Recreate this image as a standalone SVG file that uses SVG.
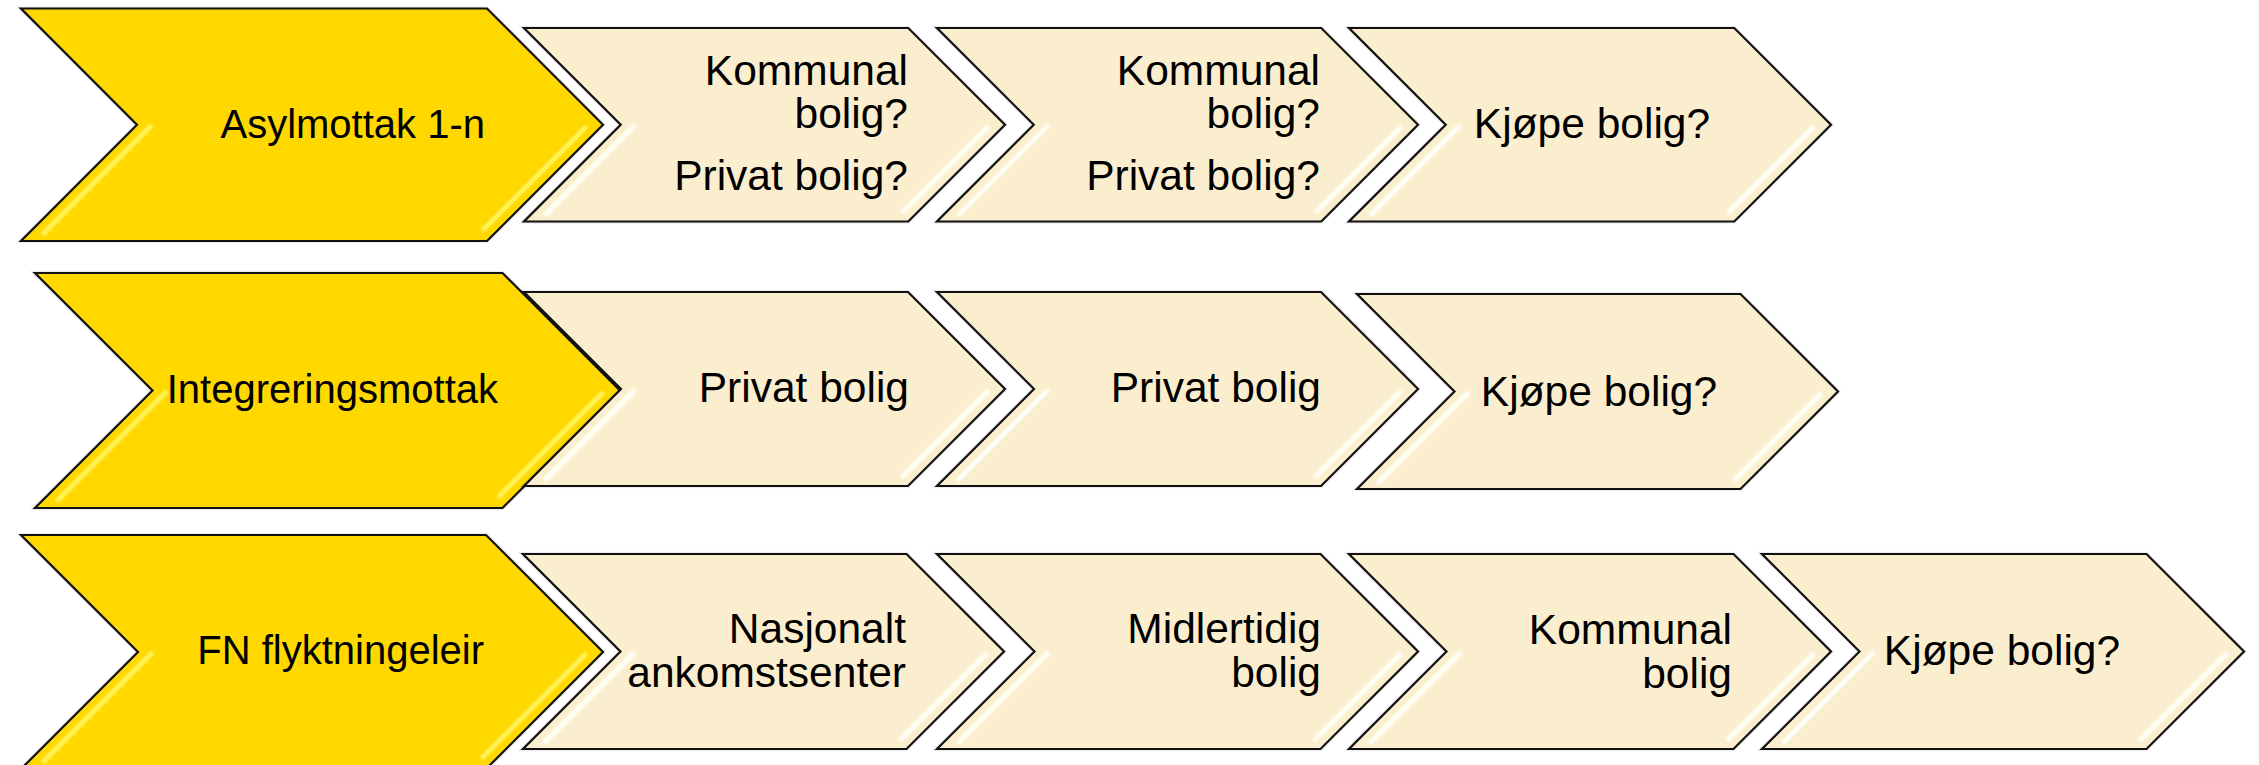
<svg xmlns="http://www.w3.org/2000/svg" width="2259" height="765" viewBox="0 0 2259 765">
<style>
.y{fill:#FFD800;stroke:#111;stroke-width:2.2;stroke-linejoin:miter}
.b{fill:#FBEECE;stroke:#111;stroke-width:2.2;stroke-linejoin:miter}
.sh{fill:none;stroke:#000;stroke-opacity:0.07;stroke-width:4.5}
.hy{fill:none;stroke:#FFF45A;stroke-width:5;stroke-linecap:round;filter:url(#soft)}
.hb{fill:none;stroke:#FFFFF6;stroke-width:5;stroke-linecap:round;filter:url(#soft)}
text{font-family:"Liberation Sans",Arial,sans-serif;font-size:42.5px;fill:#000}
.ty{font-size:40px}
.r{text-anchor:end}
.c{text-anchor:middle}
</style>
<defs>
<filter id="soft" x="-10%" y="-10%" width="120%" height="120%"><feGaussianBlur stdDeviation="0.9"/></filter>
</defs>
<rect width="2259" height="765" fill="#fff"/>
<g id="connectors"/>

<!-- Row 1 -->
<g id="n-asylmottak">
<path class="sh" d="M21,8.5 L487,8.5 L603,124.75 L487,241 L21,241 L137,124.75 Z"/>
<path class="y" d="M21,8.5 L487,8.5 L603,124.75 L487,241 L21,241 L137,124.75 Z"/>
<path class="hy" d="M585,127.75 L483.75,229 M150.25,126.75 L44,233"/>
<text class="r ty" x="485" y="138">Asylmottak 1-n</text>
</g>
<g id="n-r1-b1">
<path class="sh" d="M524,28 L908.25,28 L1005,124.75 L908.25,221.5 L524,221.5 L620.75,124.75 Z"/>
<path class="b" d="M524,28 L908.25,28 L1005,124.75 L908.25,221.5 L524,221.5 L620.75,124.75 Z"/>
<path class="hb" d="M987,127.75 L903.25,211.5 M633.75,126.75 L546.5,214"/>
<text class="r" x="908" y="85">Kommunal</text>
<text class="r" x="908" y="128">bolig?</text>
<text class="r" x="908" y="190">Privat bolig?</text>
</g>
<g id="n-r1-b2">
<path class="sh" d="M937,28 L1321.25,28 L1418,124.75 L1321.25,221.5 L937,221.5 L1033.75,124.75 Z"/>
<path class="b" d="M937,28 L1321.25,28 L1418,124.75 L1321.25,221.5 L937,221.5 L1033.75,124.75 Z"/>
<path class="hb" d="M1400,127.75 L1316.25,211.5 M1046.75,126.75 L959.5,214"/>
<text class="r" x="1320" y="85">Kommunal</text>
<text class="r" x="1320" y="128">bolig?</text>
<text class="r" x="1320" y="190">Privat bolig?</text>
</g>
<g id="n-r1-b3">
<path class="sh" d="M1349,28 L1734.25,28 L1831,124.75 L1734.25,221.5 L1349,221.5 L1445.75,124.75 Z"/>
<path class="b" d="M1349,28 L1734.25,28 L1831,124.75 L1734.25,221.5 L1349,221.5 L1445.75,124.75 Z"/>
<path class="hb" d="M1813,127.75 L1729.25,211.5 M1458.75,126.75 L1371.5,214"/>
<text class="c" x="1592" y="138">Kjøpe bolig?</text>
</g>

<!-- Row 2 -->
<g id="n-integreringsmottak">
<path class="sh" d="M35,273 L502.5,273 L620,390.5 L502.5,508 L35,508 L152.5,390.5 Z"/>
<path class="y" d="M35,273 L502.5,273 L620,390.5 L502.5,508 L35,508 L152.5,390.5 Z"/>
<path class="hy" d="M602,393.5 L499.5,496 M165.5,392.5 L58,500"/>
<text class="r ty" x="498" y="403">Integreringsmottak</text>
</g>
<g id="n-r2-b1">
<path class="sh" d="M524,292 L908,292 L1005,389 L908,486 L524,486 L621,389 Z"/>
<path class="b" d="M524,292 L908,292 L1005,389 L908,486 L524,486 L621,389 Z"/>
<path class="hb" d="M987,392 L903,476 M634,391 L546,479"/>
<text class="r" x="909" y="402">Privat bolig</text>
</g>
<g id="n-r2-b2">
<path class="sh" d="M937,292 L1321,292 L1418,389 L1321,486 L937,486 L1034,389 Z"/>
<path class="b" d="M937,292 L1321,292 L1418,389 L1321,486 L937,486 L1034,389 Z"/>
<path class="hb" d="M1400,392 L1316,476 M1047,391 L959,479"/>
<text class="r" x="1321" y="402">Privat bolig</text>
</g>
<g id="n-r2-b3">
<path class="sh" d="M1357,294 L1740.5,294 L1838,391.5 L1740.5,489 L1357,489 L1454.5,391.5 Z"/>
<path class="b" d="M1357,294 L1740.5,294 L1838,391.5 L1740.5,489 L1357,489 L1454.5,391.5 Z"/>
<path class="hb" d="M1820,394.5 L1735.5,479 M1467.5,393.5 L1379,482"/>
<text class="c" x="1599" y="406">Kjøpe bolig?</text>
</g>

<!-- Row 3 -->
<g id="n-fn-flyktningeleir">
<path class="sh" d="M21,535 L486,535 L603,652 L486,769 L21,769 L138,652 Z"/>
<path class="y" d="M21,535 L486,535 L603,652 L486,769 L21,769 L138,652 Z"/>
<path class="hy" d="M585,655 L483,757 M151,654 L44,761"/>
<text class="r ty" x="484" y="664">FN flyktningeleir</text>
</g>
<g id="n-r3-b1">
<path class="sh" d="M523,554 L906.5,554 L1004,651.5 L906.5,749 L523,749 L620.5,651.5 Z"/>
<path class="b" d="M523,554 L906.5,554 L1004,651.5 L906.5,749 L523,749 L620.5,651.5 Z"/>
<path class="hb" d="M986,654.5 L901.5,739 M633.5,653.5 L545,742"/>
<text class="r" x="906" y="643">Nasjonalt</text>
<text class="r" x="906" y="687">ankomstsenter</text>
</g>
<g id="n-r3-b2">
<path class="sh" d="M937,554 L1320.5,554 L1418,651.5 L1320.5,749 L937,749 L1034.5,651.5 Z"/>
<path class="b" d="M937,554 L1320.5,554 L1418,651.5 L1320.5,749 L937,749 L1034.5,651.5 Z"/>
<path class="hb" d="M1400,654.5 L1315.5,739 M1047.5,653.5 L959,742"/>
<text class="r" x="1321" y="643">Midlertidig</text>
<text class="r" x="1321" y="687">bolig</text>
</g>
<g id="n-r3-b3">
<path class="sh" d="M1349,554 L1733.5,554 L1831,651.5 L1733.5,749 L1349,749 L1446.5,651.5 Z"/>
<path class="b" d="M1349,554 L1733.5,554 L1831,651.5 L1733.5,749 L1349,749 L1446.5,651.5 Z"/>
<path class="hb" d="M1813,654.5 L1728.5,739 M1459.5,653.5 L1371,742"/>
<text class="r" x="1732" y="644">Kommunal</text>
<text class="r" x="1732" y="688">bolig</text>
</g>
<g id="n-r3-b4">
<path class="sh" d="M1762,554 L2146.5,554 L2244,651.5 L2146.5,749 L1762,749 L1859.5,651.5 Z"/>
<path class="b" d="M1762,554 L2146.5,554 L2244,651.5 L2146.5,749 L1762,749 L1859.5,651.5 Z"/>
<path class="hb" d="M2226,654.5 L2141.5,739 M1872.5,653.5 L1784,742"/>
<text class="c" x="2002" y="665">Kjøpe bolig?</text>
</g>
</svg>
